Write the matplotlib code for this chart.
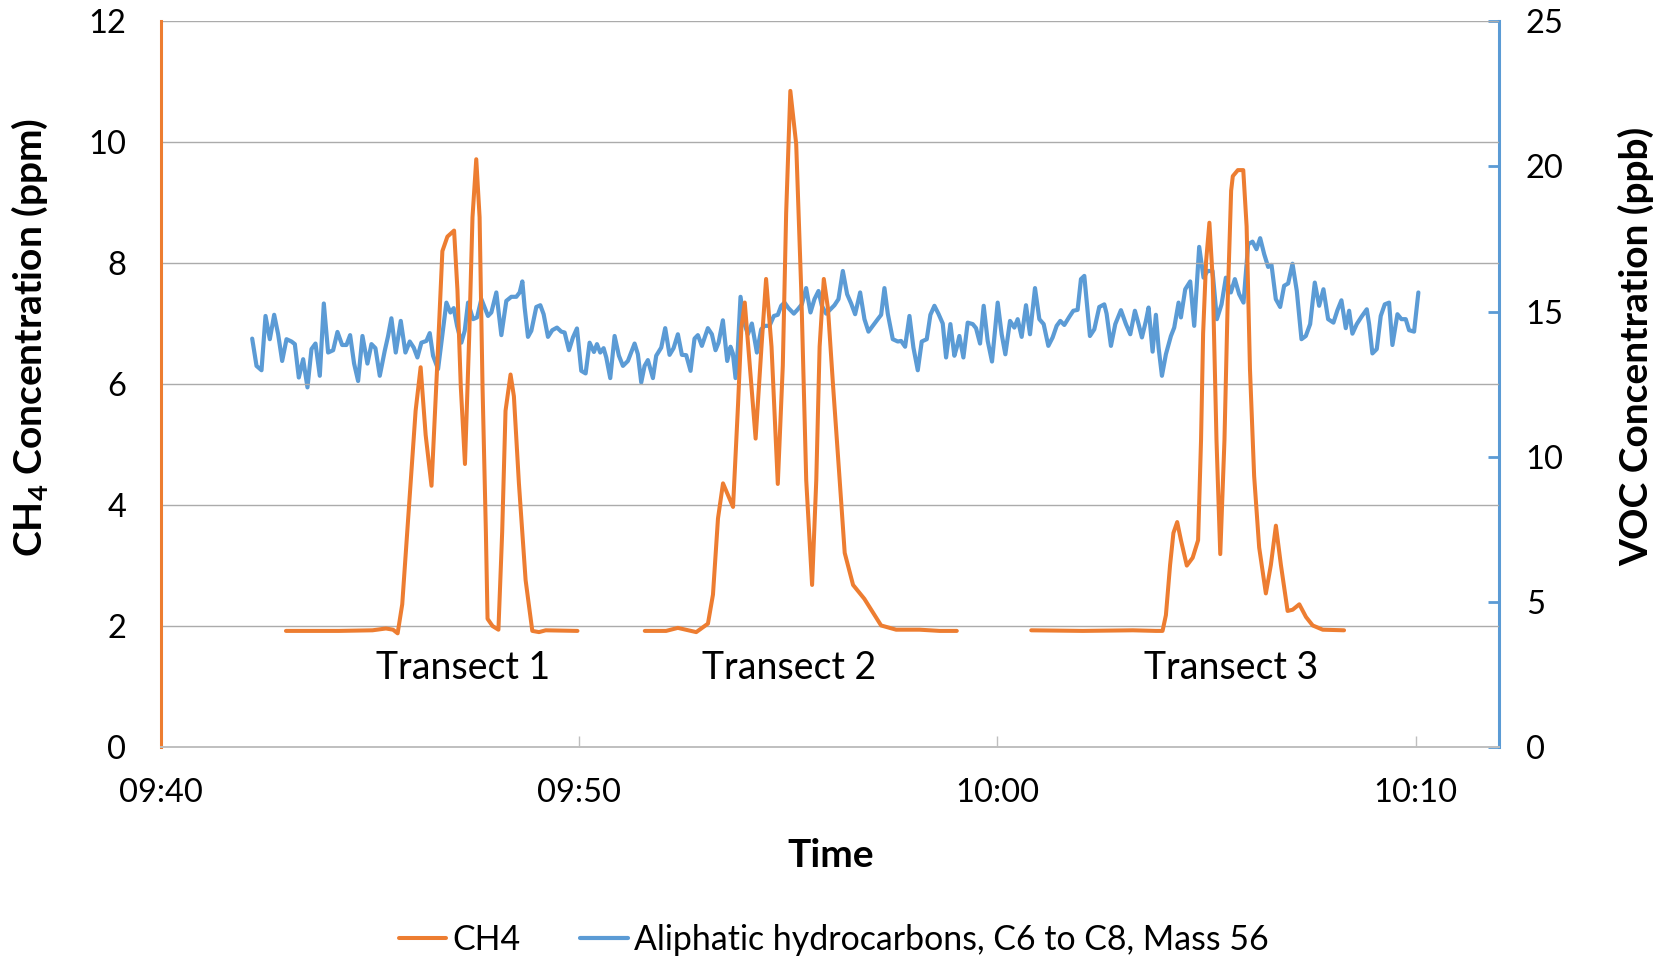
import numpy as np
import matplotlib
matplotlib.use('Agg')
import matplotlib.pyplot as plt

plt.rcParams['font.family'] = ['Lato', 'DejaVu Sans']
plt.rcParams['mathtext.fontset'] = 'custom'
plt.rcParams['mathtext.rm'] = 'Lato'
plt.rcParams['mathtext.bf'] = 'Lato:bold'

# tempo em minutos depois das 09:40
ch4_t1_min = [2.99, 4.26, 5.06, 5.38, 5.55, 5.66, 5.77, 5.93, 6.09, 6.21, 6.33, 6.47,
              6.61, 6.73, 6.85, 7.01, 7.09, 7.17, 7.27, 7.37, 7.45, 7.54, 7.62, 7.69,
              7.77, 7.81, 7.93, 8.07, 8.16, 8.24, 8.36, 8.44, 8.56, 8.72, 8.88, 9.04,
              9.20, 9.96]
ch4_t1_ppm = [1.92, 1.92, 1.93, 1.96, 1.94, 1.88, 2.36, 3.96, 5.56, 6.28, 5.16, 4.32,
              6.36, 8.20, 8.44, 8.54, 7.56, 5.96, 4.68, 6.76, 8.76, 9.72, 8.76, 5.96,
              3.56, 2.12, 2.00, 1.94, 3.56, 5.56, 6.16, 5.80, 4.36, 2.76, 1.92, 1.90,
              1.93, 1.92]

ch4_t2_min = [11.57, 12.08, 12.36, 12.80, 13.08, 13.20, 13.32, 13.44, 13.68, 13.80, 13.88,
              13.96, 14.08, 14.22, 14.36, 14.47, 14.60, 14.75, 14.87, 14.95, 15.05, 15.19,
              15.31, 15.43, 15.57, 15.67, 15.75, 15.85, 15.95, 16.07, 16.23, 16.35, 16.55,
              16.82, 17.02, 17.22, 17.58, 18.14, 18.62, 19.03]
ch4_t2_ppm = [1.92, 1.92, 1.97, 1.90, 2.04, 2.52, 3.78, 4.36, 3.97, 5.67, 6.94,
              7.35, 6.31, 5.10, 6.62, 7.74, 6.62, 4.35, 6.31, 8.83, 10.85, 9.97,
              7.57, 4.41, 2.68, 4.41, 6.62, 7.74, 7.25, 5.99, 4.41, 3.21, 2.68,
              2.45, 2.23, 2.01, 1.94, 1.94, 1.92, 1.92]

ch4_t3_min = [20.81, 22.04, 23.24, 23.79, 23.95, 24.03, 24.13, 24.21, 24.30, 24.39, 24.53,
              24.67, 24.80, 24.87, 24.92, 24.99, 25.07, 25.15, 25.24, 25.33, 25.43, 25.51,
              25.59, 25.63, 25.75, 25.88, 25.96, 26.04, 26.14, 26.26, 26.42, 26.54, 26.66,
              26.78, 26.94, 27.06, 27.22, 27.38, 27.54, 27.78, 28.29]
ch4_t3_ppm = [1.93, 1.92, 1.93, 1.92, 1.92, 2.18, 3.01, 3.54, 3.72, 3.42, 3.00,
              3.13, 3.42, 5.07, 6.84, 8.02, 8.67, 7.73, 5.07, 3.19, 5.07, 7.43,
              9.20, 9.44, 9.54, 9.54, 8.61, 6.25, 4.48, 3.30, 2.54, 3.01, 3.66,
              3.01, 2.25, 2.27, 2.36, 2.15, 2.01, 1.94, 1.93]

voc_min = [2.182, 2.286, 2.405, 2.501, 2.604, 2.708, 2.803, 2.899, 3.003, 3.122, 3.202,
           3.297, 3.401, 3.504, 3.600, 3.696, 3.799, 3.895, 3.998, 4.118, 4.221, 4.333,
           4.436, 4.524, 4.619, 4.715, 4.819, 4.938, 5.034, 5.129, 5.233, 5.352, 5.432,
           5.511, 5.615, 5.735, 5.846, 5.950, 6.045, 6.133, 6.228, 6.348, 6.428, 6.507,
           6.627, 6.722, 6.826, 6.921, 7.001, 7.081, 7.184, 7.264, 7.344, 7.463, 7.559,
           7.662, 7.821, 7.901, 8.020, 8.140, 8.259, 8.379, 8.498, 8.578, 8.642, 8.697,
           8.777, 8.857, 8.976, 9.072, 9.151, 9.255, 9.358, 9.470, 9.573, 9.653, 9.757,
           9.852, 9.948, 10.051, 10.155, 10.250, 10.354, 10.426, 10.505, 10.585, 10.649,
           10.744, 10.848, 10.951, 11.047, 11.166, 11.326, 11.405, 11.485, 11.565, 11.644,
           11.764, 11.843, 11.963, 12.058, 12.162, 12.258, 12.361, 12.457, 12.560, 12.664,
           12.759, 12.839, 12.935, 13.078, 13.174, 13.261, 13.334, 13.437, 13.541, 13.620,
           13.676, 13.740, 13.796, 13.859, 13.955, 14.035, 14.130, 14.250, 14.353, 14.433,
           14.552, 14.656, 14.751, 14.831, 14.911, 15.006, 15.134, 15.229, 15.325, 15.428,
           15.532, 15.627, 15.723, 15.803, 15.906, 16.010, 16.105, 16.201, 16.305, 16.408,
           16.504, 16.599, 16.719, 16.822, 16.918, 17.021, 17.141, 17.221, 17.300, 17.380,
           17.499, 17.619, 17.698, 17.794, 17.898, 17.993, 18.097, 18.192, 18.312, 18.399,
           18.495, 18.590, 18.694, 18.774, 18.877, 18.972, 19.028, 19.092, 19.188, 19.291,
           19.411, 19.490, 19.586, 19.673, 19.769, 19.872, 20.008, 20.103, 20.191, 20.303,
           20.406, 20.486, 20.581, 20.685, 20.780, 20.900, 21.004, 21.107, 21.219, 21.322,
           21.418, 21.505, 21.601, 21.720, 21.816, 21.919, 21.999, 22.079, 22.135, 22.214,
           22.318, 22.437, 22.557, 22.612, 22.716, 22.820, 22.955, 23.074, 23.178, 23.289,
           23.377, 23.457, 23.552, 23.616, 23.712, 23.791, 23.855, 23.935, 24.030, 24.150,
           24.229, 24.333, 24.389, 24.492, 24.611, 24.707, 24.826, 24.930, 25.026, 25.145,
           25.249, 25.360, 25.464, 25.583, 25.679, 25.782, 25.886, 25.997, 26.101, 26.196,
           26.284, 26.380, 26.475, 26.555, 26.658, 26.762, 26.857, 26.953, 27.057, 27.160,
           27.272, 27.375, 27.479, 27.590, 27.694, 27.797, 27.909, 28.036, 28.132, 28.227,
           28.331, 28.411, 28.490, 28.594, 28.705, 28.833, 28.889, 28.968, 29.072, 29.167,
           29.263, 29.367, 29.446, 29.566, 29.661, 29.765, 29.845, 29.964, 30.067]
voc_ppb = [14.07, 13.13, 12.98, 14.85, 14.05, 14.89, 14.22, 13.30, 14.05, 13.97, 13.88,
           12.73, 13.36, 12.39, 13.71, 13.90, 12.79, 15.28, 13.59, 13.67, 14.30, 13.85,
           13.85, 14.19, 13.21, 12.61, 14.16, 13.21, 13.88, 13.74, 12.79, 13.65, 14.16,
           14.77, 13.59, 14.68, 13.59, 13.97, 13.76, 13.42, 13.93, 13.99, 14.26, 13.48,
           13.02, 14.11, 15.31, 14.97, 15.12, 14.51, 13.93, 14.34, 15.31, 14.74, 14.80,
           15.43, 14.85, 14.97, 15.66, 14.19, 15.37, 15.51, 15.51, 15.66, 16.04, 15.14,
           14.13, 14.34, 15.16, 15.22, 14.91, 14.13, 14.36, 14.45, 14.31, 14.28, 13.67,
           14.11, 14.42, 12.96, 12.87, 13.93, 13.61, 13.88, 13.59, 13.74, 13.42,
           12.71, 14.16, 13.48, 13.13, 13.30, 13.90, 13.53, 12.56, 13.13, 13.33,
           12.71, 13.48, 13.76, 14.43, 13.51, 13.74, 14.22, 13.51, 13.50, 12.96,
           14.07, 14.19, 13.82, 14.43, 14.22, 13.67, 13.93, 14.70, 13.30, 13.79,
           13.56, 12.71, 13.76, 15.51, 14.57, 14.22, 14.59, 13.59, 14.39, 14.51,
           14.51, 14.85, 14.89, 15.20, 15.31, 15.12, 14.93, 15.08, 15.25, 15.81,
           14.97, 15.43, 15.71, 15.20, 14.93, 15.08, 15.22, 15.43, 16.40, 15.60,
           15.28, 14.91, 15.66, 14.74, 14.31, 14.51, 14.74, 14.89, 15.81, 14.93,
           14.05, 13.97, 13.99, 13.79, 14.85, 13.76, 12.98, 13.97, 14.05, 14.89,
           15.20, 14.93, 14.59, 13.42, 14.57, 13.48, 13.76, 14.16, 13.42, 14.62,
           14.57, 14.43, 13.90, 15.20, 13.99, 13.28, 15.31, 14.22, 13.53, 14.68,
           14.45, 14.74, 14.13, 15.22, 14.22, 15.81, 14.74, 14.57, 13.82, 14.11,
           14.51, 14.68, 14.54, 14.82, 15.03, 15.06, 16.12, 16.23, 15.37, 14.16,
           14.39, 15.16, 15.25, 14.93, 13.82, 14.57, 15.05, 14.57, 14.22, 15.03,
           14.57, 14.11, 14.68, 15.14, 13.62, 14.89, 13.76, 12.79, 13.53, 14.16,
           14.45, 15.31, 14.80, 15.77, 16.04, 14.51, 17.23, 16.17, 16.40, 16.40,
           14.74, 15.25, 16.17, 15.66, 16.12, 15.60, 15.31, 17.32, 17.41, 17.15,
           17.53, 16.98, 16.54, 16.61, 15.43, 15.16, 15.89, 15.97, 16.65, 15.71,
           14.05, 14.16, 14.57, 16.00, 15.20, 15.77, 14.74, 14.62, 15.05, 15.39,
           14.43, 15.03, 14.24, 14.57, 14.82, 15.08, 14.57, 13.56, 13.71, 14.85,
           15.25, 15.31, 13.85, 14.91, 14.74, 14.74, 14.36, 14.31, 15.66]

hora_ticks = [0, 10, 20, 30]
hora_labels = ['09:40', '09:50', '10:00', '10:10']
transectos = ['Transect 1', 'Transect 2', 'Transect 3']
transecto_x = [7.23, 15.02, 25.59]

laranja = '#ED7D31'
azul = '#5B9BD5'
cinza = '#ABABAB'

fig = plt.figure(figsize=(16.71, 9.66), dpi=100)
ax = fig.add_axes([0.0963, 0.2267, 0.8009, 0.7512])
ax2 = ax.twinx()

# CH4 no eixo da esquerda (cada transecto é um trecho separado)
estilo = dict(color=laranja, lw=2.9, solid_joinstyle='round', solid_capstyle='round', zorder=3)
l1, = ax.plot(ch4_t1_min, ch4_t1_ppm, label='CH4', **estilo)
ax.plot(ch4_t2_min, ch4_t2_ppm, **estilo)
ax.plot(ch4_t3_min, ch4_t3_ppm, **estilo)

# VOC no eixo da direita
l2, = ax2.plot(voc_min, voc_ppb, color=azul, lw=3.0, solid_joinstyle='round',
               solid_capstyle='round', label='Aliphatic hydrocarbons, C6 to C8, Mass 56')

# o eixo da direita fica por baixo, o CH4 por cima
ax.set_zorder(ax2.get_zorder() + 1)
ax.patch.set_visible(False)

ax.set_xlim(0, 32)
ax.set_ylim(0, 12)
ax2.set_ylim(0, 25)
ax.set_yticks(np.arange(0, 13, 2))
ax2.set_yticks(np.arange(0, 26, 5))
ax.set_xticks(hora_ticks)
ax.set_xticklabels(hora_labels)

ax.grid(axis='y', color=cinza, lw=1.0)
ax.set_axisbelow(True)

ax.spines['top'].set_visible(False)
ax2.spines['top'].set_visible(False)
ax.spines['right'].set_visible(False)
ax2.spines['left'].set_visible(False)
ax2.spines['bottom'].set_visible(False)
ax.spines['left'].set_color(laranja)
ax.spines['left'].set_linewidth(2.2)
ax.spines['bottom'].set_color('#BFBFBF')
ax.spines['bottom'].set_linewidth(1.4)
ax2.spines['right'].set_color(azul)
ax2.spines['right'].set_linewidth(2.2)

ax.tick_params(axis='y', length=0, pad=25, labelsize=23.5)
ax.tick_params(axis='x', direction='in', length=8, width=1.0, color='#BFBFBF',
               pad=22, labelsize=23.5)
ax2.tick_params(axis='y', direction='in', length=8, width=2.0, color=azul,
                pad=19, labelsize=23.5)

ax.set_ylabel(r'CH$_\mathbf{4}$ Concentration (ppm)', fontsize=28, fontweight='bold')
ax.yaxis.set_label_coords(-0.083, 0.565)
ax2.set_ylabel('VOC Concentration (ppb)', fontsize=28, fontweight='bold', rotation=90)
ax2.yaxis.set_label_coords(1.089, 0.552)
fig.text(0.497, 0.114, 'Time', fontsize=28, fontweight='bold', ha='center', va='center')

for nome, xt in zip(transectos, transecto_x):
    ax.text(xt, 1.30, nome, fontsize=27, ha='center', va='center')

fig.legend(handles=[l1, l2], loc='center', bbox_to_anchor=(0.499, 0.027), ncol=2,
           frameon=False, fontsize=24.4, handlelength=1.4, handletextpad=0.2,
           columnspacing=1.75)

fig.savefig('out.png', dpi=100)
